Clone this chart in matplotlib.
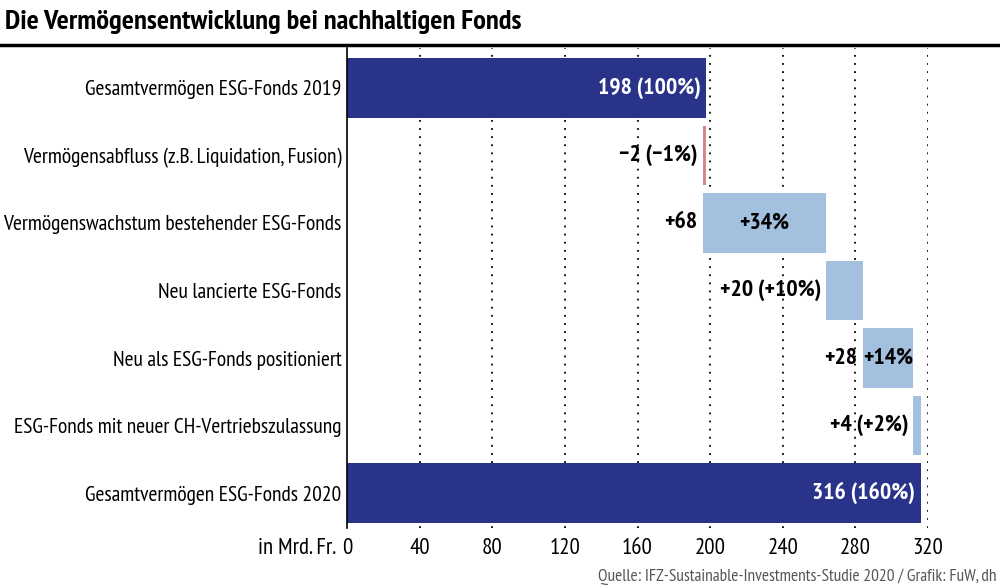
import matplotlib.pyplot as plt

categories = [
    "Gesamtvermögen ESG-Fonds 2019",
    "Vermögensabfluss (z.B. Liquidation, Fusion)",
    "Vermögenswachstum bestehender ESG-Fonds",
    "Neu lancierte ESG-Fonds",
    "Neu als ESG-Fonds positioniert",
    "ESG-Fonds mit neuer CH-Vertriebszulassung",
    "Gesamtvermögen ESG-Fonds 2020",
]
changes = [198, -2, 68, 20, 28, 4, 316]
pct = [100, -1, 34, 10, 14, 2, 160]
xticks = [0, 40, 80, 120, 160, 200, 240, 280, 320]

NAVY = "#283389"
LIGHT = "#a3c0de"
RED = "#d9868a"

plt.rcParams['font.family'] = ["PT Sans Narrow", "Fira Sans Condensed", "Roboto Condensed", "DejaVu Sans"]

fig = plt.figure(figsize=(10, 5.85), dpi=100)
ax = fig.add_axes([0.347, 0.097, 0.581, 0.821])

# waterfall: totals start at 0, changes start at running sum
lefts, widths, colors = [], [], []
run = 0
for i, c in enumerate(changes):
    if i == 0 or i == len(changes) - 1:
        lefts.append(0)
        widths.append(c)
        colors.append(NAVY)
        run = c
    elif c < 0:
        lefts.append(run + c)
        widths.append(-c)
        colors.append(RED)
        run += c
    else:
        lefts.append(run)
        widths.append(c)
        colors.append(LIGHT)
        run += c

y = list(range(len(categories)))
ax.barh(y, widths, left=lefts, height=0.88, color=colors, zorder=2)

ax.set_xlim(0, 320)
ax.set_ylim(len(categories) - 0.48, -0.59)
ax.set_xticks(xticks)
ax.set_xticklabels([str(t) for t in xticks], fontsize=16.5)
ax.set_yticks(y)
ax.set_yticklabels(categories, fontsize=15.5)
ax.tick_params(axis='both', length=0, pad=4)
ax.tick_params(axis='x', pad=7)
for t in xticks[1:]:
    ax.axvline(t, color="black", lw=1.3, ls=(0, (1, 3.5)), zorder=1)
for s in ['top', 'right', 'bottom']:
    ax.spines[s].set_visible(False)
ax.spines['left'].set_linewidth(1.2)

bold = dict(fontsize=17, fontweight='bold')
ax.text(lefts[0] + widths[0] - 3, 0, f"{changes[0]} ({pct[0]}%)", color="white", ha='right', va='center', **bold)
ax.text(lefts[1] - 3, 1, f"\u2212{-changes[1]} (\u2212{-pct[1]}%)", ha='right', va='center', **bold)
ax.text(lefts[2] - 3, 2, f"+{changes[2]}", ha='right', va='center', **bold)
ax.text(lefts[2] + widths[2] / 2, 2, f"+{pct[2]}%", ha='center', va='center', **bold)
ax.text(lefts[3] - 3, 3, f"+{changes[3]} (+{pct[3]}%)", ha='right', va='center', **bold)
ax.text(lefts[4] - 3, 4, f"+{changes[4]}", ha='right', va='center', **bold)
ax.text(lefts[4] + 0.3, 4, f"+{pct[4]}%", ha='left', va='center', **bold)
ax.text(lefts[5] - 3, 5, f"+{changes[5]} (+{pct[5]}%)", ha='right', va='center', **bold)
ax.text(lefts[6] + widths[6] - 3, 6, f"{changes[6]} ({pct[6]}%)", color="white", ha='right', va='center', **bold)

fig.text(0.336, 0.062, "in Mrd. Fr.", ha='right', va='center', fontsize=16.5)
fig.text(0.005, 0.962, "Die Vermögensentwicklung bei nachhaltigen Fonds", ha='left', va='center',
         fontsize=20.5, fontweight='bold')
fig.add_artist(plt.Line2D([0, 1], [0.923, 0.923], color="black", lw=2.5))
fig.text(0.997, 0.014, "Quelle: IFZ-Sustainable-Investments-Studie 2020 / Grafik: FuW, dh",
         ha='right', va='center', fontsize=12.5, color="#555555")

fig.savefig("out.png", dpi=100)
